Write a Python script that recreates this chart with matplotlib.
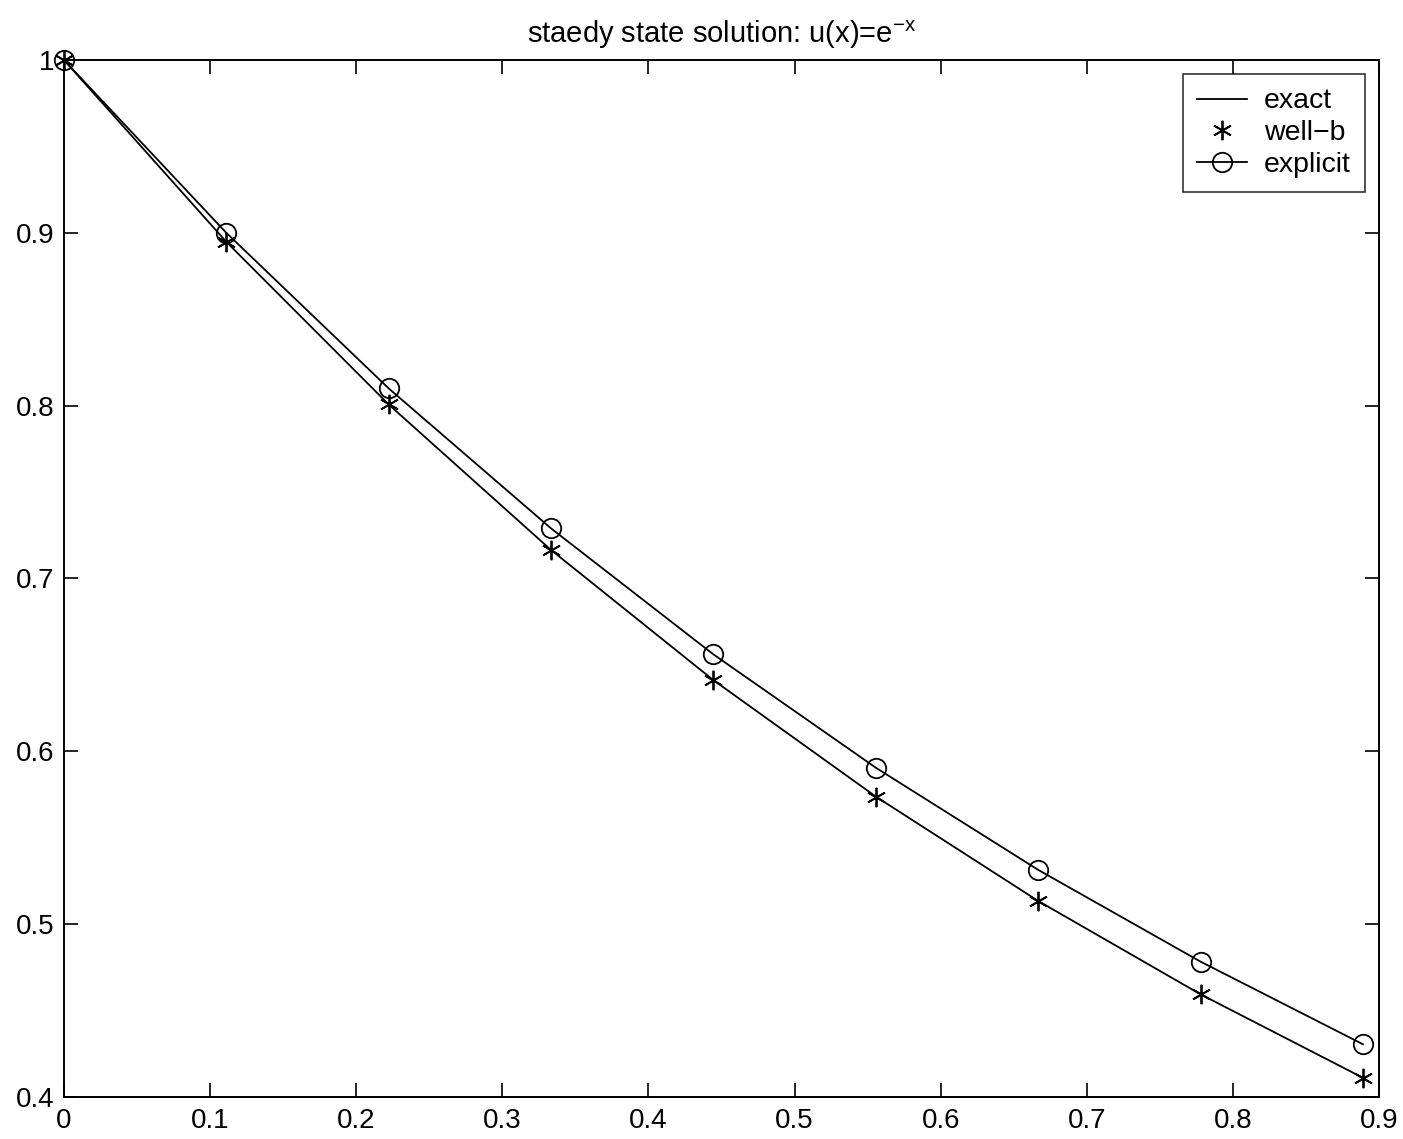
import matplotlib
matplotlib.use("Agg")
import matplotlib.pyplot as plt

plt.rcParams['font.family'] = ['Liberation Sans', 'DejaVu Sans']
plt.rcParams['mathtext.fontset'] = 'custom'
plt.rcParams['mathtext.rm'] = 'Liberation Sans'

x = [0.0, 0.1111, 0.2222, 0.3333, 0.4444, 0.5556, 0.6667, 0.7778, 0.8889]
exact = [1.0, 0.8948, 0.8007, 0.7165, 0.6412, 0.5738, 0.5134, 0.4594, 0.4111]
wellb = [1.0, 0.8948, 0.8007, 0.7165, 0.6412, 0.5738, 0.5134, 0.4594, 0.4111]
explicit = [1.0, 0.9, 0.81, 0.729, 0.6561, 0.5905, 0.5314, 0.4783, 0.4305]
xticks = [0, 0.1, 0.2, 0.3, 0.4, 0.5, 0.6, 0.7, 0.8, 0.9]
yticks = [0.4, 0.5, 0.6, 0.7, 0.8, 0.9, 1.0]
xticklabels = ['0', '0.1', '0.2', '0.3', '0.4', '0.5', '0.6', '0.7', '0.8', '0.9']
yticklabels = ['0.4', '0.5', '0.6', '0.7', '0.8', '0.9', '1']

fig = plt.figure(figsize=(14.03, 11.39), dpi=100)
ax = fig.add_axes([0.0456, 0.0369, 0.9374, 0.9104])

ax.plot(x, exact, '-', color='black', lw=1.3, label='exact', clip_on=False)
ax.plot(x, wellb, linestyle='none', marker=(6, 2, 0), ms=14, mew=1.3, color='black',
        label='well\u2212b', clip_on=False, zorder=3)
ax.plot(x, explicit, '-', color='black', lw=1.3, marker='o', ms=14, mfc='none', mec='black',
        mew=1.3, label='explicit', clip_on=False, zorder=3)

ax.set_xlim(0, 0.9)
ax.set_ylim(0.4, 1.0)
ax.set_xticks(xticks)
ax.set_xticklabels(xticklabels)
ax.set_yticks(yticks)
ax.set_yticklabels(yticklabels)
ax.tick_params(direction='in', top=True, right=True, length=10, width=1.2, labelsize=20)
ax.tick_params(axis='y', pad=7)
ax.tick_params(axis='x', pad=8)
for s in ax.spines.values():
    s.set_linewidth(1.4)

ax.set_title('staedy state solution: u(x)=e$^{\\mathregular{\u2212x}}$',
             fontsize=21, pad=12)

leg = ax.legend(loc='upper right', fontsize=20.5, frameon=True, fancybox=False,
                edgecolor='black', borderaxespad=0.5, handlelength=1.75, borderpad=0.5,
                labelspacing=0.2, handletextpad=0.6)
leg.get_frame().set_linewidth(1.2)

fig.savefig('out.png', dpi=100)
